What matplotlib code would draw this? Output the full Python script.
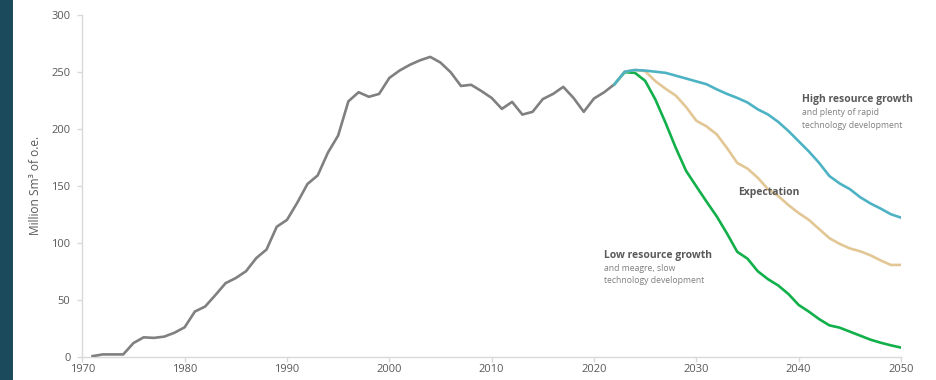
import matplotlib
matplotlib.use("Agg")
import matplotlib.pyplot as plt
from matplotlib.patches import Rectangle

hist_years = list(range(1971, 2023))
hist_vals = [0.5, 2, 2, 2, 12, 17, 16.5, 17.6, 21, 25.8,
             39.6, 44, 54, 64.5, 69, 75, 86.5, 94, 114, 120,
             135, 151.5, 159, 179, 194, 224, 232, 228, 230.5, 244.5,
             251, 256, 260, 263, 258, 249.5, 237.5, 238.5, 233, 227,
             217.4, 223.5, 212.4, 214.8, 226, 230.5, 236.7, 227, 214.8, 226.5,
             232, 239]

scen_years = list(range(2022, 2051))
high_vals = [239, 250, 251.5, 251, 250, 249, 246.5, 244, 241.5, 239,
             234.5, 230.5, 227, 223, 217, 212.5, 206, 198, 189, 180,
             170, 158.5, 152, 147, 140, 134.5, 130, 125, 122]
expect_vals = [239, 250, 251.5, 250.5, 241.7, 235, 229, 219, 207, 202,
               195, 183, 170, 165, 157, 147, 141, 133, 126, 120,
               112, 104, 99, 95, 92.5, 89, 84.5, 80.5, 80.5]
low_vals = [239, 249.5, 249, 242, 225.6, 205, 183, 163, 149.4, 136,
            123, 108, 92, 86, 75, 68, 62.5, 55, 45.4, 39.5,
            33, 27.5, 25.5, 22, 18.5, 15, 12.3, 10, 8]

x_ticks = [1970, 1980, 1990, 2000, 2010, 2020, 2030, 2040, 2050]
y_ticks = [0, 50, 100, 150, 200, 250, 300]

plt.rcParams['font.family'] = ['Open Sans', 'DejaVu Sans']

fig = plt.figure(figsize=(9.37, 3.80), dpi=100)
fig.patches.append(Rectangle((0, 0), 13 / 937, 1, transform=fig.transFigure,
                             facecolor='#1c4a5d', edgecolor='none', zorder=0))
ax = fig.add_axes([82.3 / 937, 1 - 356.7 / 380, (901 - 82.3) / 937, (356.7 - 14.7) / 380])

lw = 1.9
ax.plot(hist_years, hist_vals, color='#808080', lw=lw, solid_joinstyle='round', zorder=3)
ax.plot(scen_years, low_vals, color='#12b04a', lw=lw, solid_joinstyle='round', zorder=4)
ax.plot(scen_years, expect_vals, color='#e2c795', lw=lw, solid_joinstyle='round', zorder=5)
ax.plot(scen_years, high_vals, color='#4db3c4', lw=lw, solid_joinstyle='round', zorder=6)

ax.set_xlim(1970, 2050)
ax.set_ylim(0, 300)
ax.set_xticks(x_ticks)
ax.set_yticks(y_ticks)
for s in ['top', 'right']:
    ax.spines[s].set_visible(False)
for s in ['left', 'bottom']:
    ax.spines[s].set_color('#d9d9d9')
    ax.spines[s].set_linewidth(1.0)
ax.tick_params(axis='both', colors='#d9d9d9', labelcolor='#595959', labelsize=8,
               length=3.5, width=1.0)
ax.tick_params(axis='y', pad=5)
ax.tick_params(axis='x', pad=1.5)
ax.set_ylabel('Million Sm³ of o.e.', color='#595959', fontsize=8.6, labelpad=7)

ax.text(2040.28, 225.6, 'High resource growth', fontsize=7.5, fontweight='bold',
        color='#595959', ha='left', va='center', zorder=7)
ax.text(2040.28, 213.9, 'and plenty of rapid', fontsize=6.2,
        color='#7f7f7f', ha='left', va='center', zorder=7)
ax.text(2040.28, 203.0, 'technology development', fontsize=6.2,
        color='#7f7f7f', ha='left', va='center', zorder=7)
ax.text(2034.1, 143.6, 'Expectation', fontsize=7.5, fontweight='bold',
        color='#595959', ha='left', va='center', zorder=7)
ax.text(2021.0, 88.8, 'Low resource growth', fontsize=7.5, fontweight='bold',
        color='#595959', ha='left', va='center', zorder=7)
ax.text(2021.0, 77.1, 'and meagre, slow', fontsize=6.2,
        color='#7f7f7f', ha='left', va='center', zorder=7)
ax.text(2021.0, 66.5, 'technology development', fontsize=6.2,
        color='#7f7f7f', ha='left', va='center', zorder=7)

fig.savefig('out.png', dpi=100)
